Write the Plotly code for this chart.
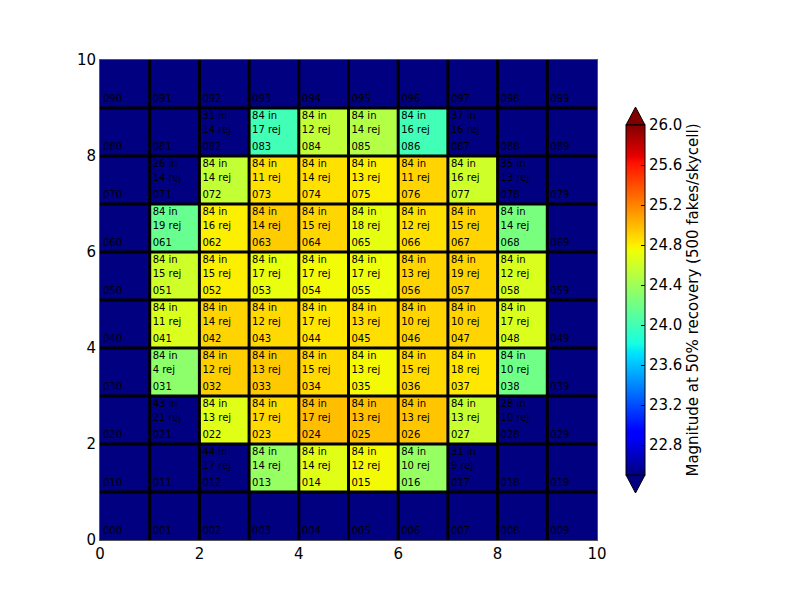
import plotly.graph_objects as go

N = None
# rows 0..9 (bottom to top), columns 0..9
n_in = [
    [N, N, N, N, N, N, N, N, N, N],
    [N, N, 44, 84, 84, 84, 84, 31, N, N],
    [N, 43, 84, 84, 84, 84, 84, 84, 28, N],
    [N, 84, 84, 84, 84, 84, 84, 84, 84, N],
    [N, 84, 84, 84, 84, 84, 84, 84, 84, N],
    [N, 84, 84, 84, 84, 84, 84, 84, 84, N],
    [N, 84, 84, 84, 84, 84, 84, 84, 84, N],
    [N, 26, 84, 84, 84, 84, 84, 84, 35, N],
    [N, N, 31, 84, 84, 84, 84, 37, N, N],
    [N, N, N, N, N, N, N, N, N, N],
]
n_rej = [
    [N, N, N, N, N, N, N, N, N, N],
    [N, N, 17, 14, 14, 12, 10, 9, N, N],
    [N, 21, 13, 17, 17, 13, 13, 13, 10, N],
    [N, 4, 12, 13, 15, 13, 15, 18, 10, N],
    [N, 11, 14, 12, 17, 13, 10, 10, 17, N],
    [N, 15, 15, 17, 17, 17, 13, 19, 12, N],
    [N, 19, 16, 14, 15, 18, 12, 15, 14, N],
    [N, 14, 14, 11, 14, 13, 11, 16, 13, N],
    [N, N, 14, 17, 12, 14, 16, 16, N, N],
    [N, N, N, N, N, N, N, N, N, N],
]
mag50 = [
    [N, N, N, N, N, N, N, N, N, N],
    [N, N, N, 24.36, 24.68, 24.76, 24.36, N, N, N],
    [N, N, 24.68, 24.88, 24.98, 24.97, 24.95, 24.57, N, N],
    [N, 24.32, 24.92, 24.94, 24.88, 24.76, 24.88, 24.83, 24.20, N],
    [N, 24.65, 24.90, 24.88, 24.83, 24.86, 24.90, 24.90, 24.65, N],
    [N, 24.60, 24.80, 24.72, 24.75, 24.73, 24.90, 24.90, 24.65, N],
    [N, 24.16, 24.80, 24.93, 24.89, 24.70, 24.85, 24.90, 24.24, N],
    [N, N, 24.55, 24.85, 24.85, 24.80, 24.90, 24.60, N, N],
    [N, N, N, 24.00, 24.54, 24.48, 24.00, N, N, N],
    [N, N, N, N, N, N, N, N, N, N],
]
vmin, vmax = 22.5, 26.0
cbar_ticks = [22.8, 23.2, 23.6, 24.0, 24.4, 24.8, 25.2, 25.6, 26.0]
axis_ticks = [0, 2, 4, 6, 8, 10]
cbar_title = "Magnitude at 50% recovery (500 fakes/skycell)"

# matplotlib 'jet' colormap segment data
jet = {
    "r": [(0, 0), (0.35, 0), (0.66, 1), (0.89, 1), (1, 0.5)],
    "g": [(0, 0), (0.125, 0), (0.375, 1), (0.64, 1), (0.91, 0), (1, 0)],
    "b": [(0, 0.5), (0.11, 1), (0.34, 1), (0.65, 0), (1, 0)],
}

def interp(seg, t):
    for (x0, y0), (x1, y1) in zip(seg[:-1], seg[1:]):
        if x0 <= t <= x1:
            return y0 + (y1 - y0) * (t - x0) / (x1 - x0) if x1 > x0 else y1
    return seg[-1][1]

stops = sorted({p[0] for s in jet.values() for p in s})
colorscale = [
    [t, "rgb(%d,%d,%d)" % tuple(round(255 * interp(jet[k], t)) for k in "rgb")]
    for t in stops
]

fig = go.Figure()
fig.add_trace(go.Heatmap(
    z=mag50, x=list(range(11)), y=list(range(11)),
    zmin=vmin, zmax=vmax, colorscale=colorscale, hoverongaps=False,
    colorbar=dict(
        x=1.0584, xanchor="left", xpad=0, ypad=0, y=0.5, yanchor="middle",
        len=350 / 480, lenmode="fraction", thickness=19,
        outlinecolor="black", outlinewidth=1,
        tickvals=cbar_ticks, ticktext=["%.1f" % v for v in cbar_ticks],
        ticks="inside", ticklen=4, tickcolor="black",
        tickfont=dict(family="DejaVu Sans", size=15, color="black"),
        title=dict(text=cbar_title, side="right",
                   font=dict(family="DejaVu Sans", size=15, color="black")),
    ),
))

xs, ys, txt = [], [], []
for r in range(10):
    for c in range(10):
        xs.append(c + 0.06); ys.append(r + 0.18); txt.append("0%d%d" % (r, c))
        if n_in[r][c] is not None:
            xs.append(c + 0.06); ys.append(r + 0.83); txt.append("%d in" % n_in[r][c])
            xs.append(c + 0.06); ys.append(r + 0.54); txt.append("%d rej" % n_rej[r][c])
fig.add_trace(go.Scatter(
    x=xs, y=ys, text=txt, mode="text", textposition="middle right",
    textfont=dict(family="DejaVu Sans", size=10, color="black"),
    hoverinfo="skip", showlegend=False,
))

shapes = []
for k in range(1, 10):
    shapes.append(dict(type="line", xref="x", yref="y", x0=k, x1=k, y0=0, y1=10,
                       line=dict(color="black", width=3)))
    shapes.append(dict(type="line", xref="x", yref="y", x0=0, x1=10, y0=k, y1=k,
                       line=dict(color="black", width=3)))
# colorbar extension triangles
shapes.append(dict(type="path", xref="paper", yref="paper",
                   path="M 1.0584,0.8646 L 1.0966,0.8646 L 1.0775,0.902 Z",
                   fillcolor="rgb(128,0,0)", line=dict(color="black", width=1)))
shapes.append(dict(type="path", xref="paper", yref="paper",
                   path="M 1.0584,0.1354 L 1.0966,0.1354 L 1.0775,0.0979 Z",
                   fillcolor="rgb(0,0,128)", line=dict(color="black", width=1)))

axis_common = dict(range=[0, 10], tickvals=axis_ticks, showgrid=False, zeroline=False,
                   showline=True, linecolor="#555", linewidth=1, mirror=True,
                   ticks="", tickfont=dict(family="DejaVu Sans", size=15, color="black"))
fig.update_layout(
    width=800, height=600,
    margin=dict(l=92, r=211, t=52, b=68),
    paper_bgcolor="white", plot_bgcolor="rgb(0,0,128)",
    xaxis=dict(**axis_common),
    yaxis=dict(**axis_common),
    shapes=shapes, showlegend=False,
)
fig.write_html("out.html")
